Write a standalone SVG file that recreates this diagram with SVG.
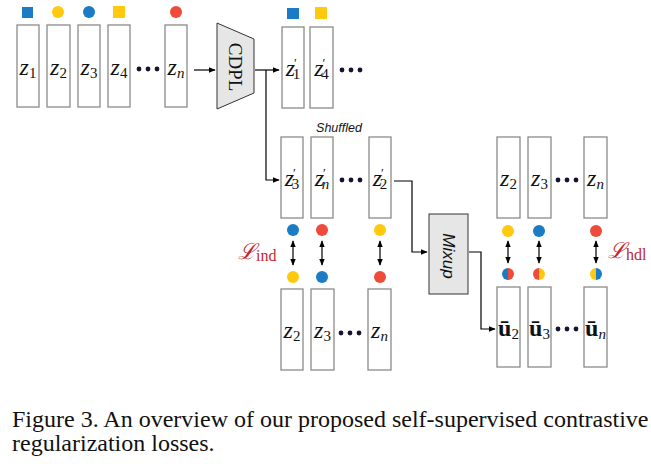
<svg xmlns="http://www.w3.org/2000/svg" width="651" height="464" viewBox="0 0 651 464">
<style>
.box{fill:#fff;stroke:#8a8a8a;stroke-width:1.3}
.lbl{font-family:"Liberation Serif",serif;font-size:24px;fill:#111;text-anchor:middle}
.it{font-style:italic}
.sub{font-size:15px}
.pr{font-size:13px}
.dot{fill:#141432}
.ln{fill:none;stroke:#000;stroke-width:1.2}
.b{fill:#1b7bc4}.y{fill:#ffc90e}.r{fill:#ef4a3a}
.loss{font-family:"Liberation Serif",serif;fill:#c1272d}
</style>
<defs>
<marker id="ah" viewBox="0 0 10 10" refX="9" refY="5" markerWidth="7" markerHeight="7" orient="auto-start-reverse" markerUnits="userSpaceOnUse">
<path d="M0,1 L10,5 L0,9 z" fill="#000"/>
</marker>
</defs>

<!-- top input row -->
<g id="in-z1"><rect x="22" y="7" width="11" height="11" class="b"/><rect class="box" x="17" y="25" width="22" height="82"/><text class="lbl" x="28" y="75"><tspan class="it">z</tspan><tspan class="sub" dy="3">1</tspan></text></g>
<g id="in-z2"><circle cx="58" cy="12" r="6" class="y"/><rect class="box" x="47" y="25" width="23" height="82"/><text class="lbl" x="58.5" y="75"><tspan class="it">z</tspan><tspan class="sub" dy="3">2</tspan></text></g>
<g id="in-z3"><circle cx="89" cy="12" r="6" class="b"/><rect class="box" x="78" y="25" width="22" height="82"/><text class="lbl" x="89" y="75"><tspan class="it">z</tspan><tspan class="sub" dy="3">3</tspan></text></g>
<g id="in-z4"><rect x="113" y="6" width="12" height="12" class="y"/><rect class="box" x="108" y="25" width="22" height="82"/><text class="lbl" x="119" y="75"><tspan class="it">z</tspan><tspan class="sub" dy="3">4</tspan></text></g>
<g id="in-dots"><circle class="dot" cx="139" cy="69" r="2.4"/><circle class="dot" cx="148" cy="69" r="2.4"/><circle class="dot" cx="157" cy="69" r="2.4"/></g>
<g id="in-zn"><circle cx="176" cy="12" r="6" class="r"/><rect class="box" x="165" y="25" width="22" height="82"/><text class="lbl" x="176" y="75"><tspan class="it">z</tspan><tspan class="sub it" dy="3">n</tspan></text></g>

<!-- CDPL -->
<g id="cdpl"><path d="M217,23 L254,39 L254,93 L217,109 Z" fill="#e6e6e6" stroke="#333" stroke-width="1"/><text x="235" y="67" transform="rotate(90 235 67)" font-family="Liberation Serif,serif" font-size="19" text-anchor="middle" dominant-baseline="central" fill="#111">CDPL</text></g>

<!-- output row -->
<g id="out-z1"><rect x="287" y="8" width="12" height="11" class="b"/><rect class="box" x="282" y="27" width="22" height="81"/><text class="lbl" x="293" y="76"><tspan class="it">z</tspan><tspan class="pr" dx="-1" dy="-9">′</tspan><tspan class="sub" dx="-4" dy="12">1</tspan></text></g>
<g id="out-z4"><rect x="315" y="7" width="12" height="12" class="y"/><rect class="box" x="310" y="27" width="23" height="81"/><text class="lbl" x="321.5" y="76"><tspan class="it">z</tspan><tspan class="pr" dx="-1" dy="-9">′</tspan><tspan class="sub" dx="-4" dy="12">4</tspan></text></g>
<g id="out-dots"><circle class="dot" cx="342" cy="70" r="2.4"/><circle class="dot" cx="351" cy="70" r="2.4"/><circle class="dot" cx="360" cy="70" r="2.4"/></g>

<!-- shuffled row -->
<g id="shuffled-label"><text x="339" y="132" font-family="Liberation Sans,Arial,sans-serif" font-style="italic" font-size="12.5" text-anchor="middle" fill="#111">Shuffled</text></g>
<g id="sh-z3"><rect class="box" x="281" y="137" width="22" height="81"/><text class="lbl" x="292" y="186"><tspan class="it">z</tspan><tspan class="pr" dx="-1" dy="-9">′</tspan><tspan class="sub" dx="-4" dy="12">3</tspan></text>
<circle cx="293" cy="230" r="6" class="b"/><circle cx="293" cy="277" r="6" class="y"/></g>
<g id="sh-zn"><rect class="box" x="311" y="137" width="22" height="81"/><text class="lbl" x="322" y="186"><tspan class="it">z</tspan><tspan class="pr" dx="-1" dy="-9">′</tspan><tspan class="sub it" dx="-4" dy="12">n</tspan></text>
<circle cx="322" cy="230" r="6" class="r"/><circle cx="322" cy="277" r="6" class="b"/></g>
<g id="sh-dots"><circle class="dot" cx="342" cy="180" r="2.4"/><circle class="dot" cx="351" cy="180" r="2.4"/><circle class="dot" cx="360" cy="180" r="2.4"/></g>
<g id="sh-z2"><rect class="box" x="369" y="137" width="22" height="81"/><text class="lbl" x="380" y="186"><tspan class="it">z</tspan><tspan class="pr" dx="-1" dy="-9">′</tspan><tspan class="sub" dx="-4" dy="12">2</tspan></text>
<circle cx="380" cy="230" r="6" class="y"/><circle cx="380" cy="277" r="6" class="r"/></g>

<g id="loss-ind"><text class="loss" x="238" y="259" font-size="22" font-style="italic">ℒ<tspan font-size="16" font-style="normal" dy="2">ind</tspan></text></g>

<!-- bottom left row -->
<g id="bl-z2"><rect class="box" x="281" y="289" width="22" height="81"/><text class="lbl" x="292" y="338"><tspan class="it">z</tspan><tspan class="sub" dy="3">2</tspan></text></g>
<g id="bl-z3"><rect class="box" x="311" y="289" width="23" height="81"/><text class="lbl" x="322.5" y="338"><tspan class="it">z</tspan><tspan class="sub" dy="3">3</tspan></text></g>
<g id="bl-dots"><circle class="dot" cx="341" cy="333" r="2.4"/><circle class="dot" cx="350" cy="333" r="2.4"/><circle class="dot" cx="359" cy="333" r="2.4"/></g>
<g id="bl-zn"><rect class="box" x="368" y="289" width="23" height="81"/><text class="lbl" x="379.5" y="338"><tspan class="it">z</tspan><tspan class="sub it" dy="3">n</tspan></text></g>

<!-- Mixup -->
<g id="mixup"><rect x="429" y="214" width="39" height="80" fill="#e6e6e6" stroke="#333" stroke-width="1"/><text x="448.5" y="256" transform="rotate(90 448.5 256)" font-family="Liberation Sans,Arial,sans-serif" font-style="italic" font-size="17" text-anchor="middle" dominant-baseline="central" fill="#111">Mixup</text></g>

<!-- right top row -->
<g id="rt-z2"><rect class="box" x="497" y="137" width="23" height="81"/><text class="lbl" x="508.5" y="186"><tspan class="it">z</tspan><tspan class="sub" dy="3">2</tspan></text><circle cx="508" cy="231" r="6" class="y"/></g>
<g id="rt-z3"><rect class="box" x="528" y="137" width="23" height="81"/><text class="lbl" x="539.5" y="186"><tspan class="it">z</tspan><tspan class="sub" dy="3">3</tspan></text><circle cx="539" cy="231" r="6" class="b"/></g>
<g id="rt-dots"><circle class="dot" cx="558" cy="180" r="2.4"/><circle class="dot" cx="567" cy="180" r="2.4"/><circle class="dot" cx="576" cy="180" r="2.4"/></g>
<g id="rt-zn"><rect class="box" x="584" y="137" width="23" height="81"/><text class="lbl" x="595.5" y="186"><tspan class="it">z</tspan><tspan class="sub it" dy="3">n</tspan></text><circle cx="596" cy="231" r="6" class="r"/></g>

<g id="loss-hdl"><text class="loss" x="608" y="258" font-size="22" font-style="italic">ℒ<tspan font-size="16" font-style="normal" dy="2">hdl</tspan></text></g>

<!-- mixed half circles -->
<g id="mix-u2"><path d="M508,268 A6,6 0 0 0 508,280 Z" class="b"/><path d="M508,268 A6,6 0 0 1 508,280 Z" class="r"/></g>
<g id="mix-u3"><path d="M539,268 A6,6 0 0 0 539,280 Z" class="r"/><path d="M539,268 A6,6 0 0 1 539,280 Z" class="y"/></g>
<g id="mix-un"><path d="M596,268 A6,6 0 0 0 596,280 Z" class="y"/><path d="M596,268 A6,6 0 0 1 596,280 Z" class="b"/></g>

<!-- bottom right row -->
<g id="br-u2"><rect class="box" x="497" y="287" width="23" height="80"/><text class="lbl" x="508.5" y="336"><tspan font-weight="bold">ū</tspan><tspan class="sub" dy="3">2</tspan></text></g>
<g id="br-u3"><rect class="box" x="528" y="287" width="23" height="80"/><text class="lbl" x="539.5" y="336"><tspan font-weight="bold">ū</tspan><tspan class="sub" dy="3">3</tspan></text></g>
<g id="br-dots"><circle class="dot" cx="558" cy="329" r="2.4"/><circle class="dot" cx="567" cy="329" r="2.4"/><circle class="dot" cx="576" cy="329" r="2.4"/></g>
<g id="br-un"><rect class="box" x="584" y="287" width="23" height="80"/><text class="lbl" x="595.5" y="336"><tspan font-weight="bold">ū</tspan><tspan class="sub it" dy="3">n</tspan></text></g>

<!-- connectors -->
<g id="connectors">
<line class="ln" x1="194" y1="70" x2="215" y2="70" marker-end="url(#ah)"/>
<line class="ln" x1="255" y1="70" x2="279" y2="70" marker-end="url(#ah)"/>
<polyline class="ln" points="266,70 266,180 279,180" marker-end="url(#ah)"/>
<polyline class="ln" points="394,181 412,181 412,252 427,252" marker-end="url(#ah)"/>
<polyline class="ln" points="469,252 481,252 481,329 495,329" marker-end="url(#ah)"/>
<line class="ln" x1="293" y1="241" x2="293" y2="265" marker-start="url(#ah)" marker-end="url(#ah)"/>
<line class="ln" x1="322" y1="241" x2="322" y2="265" marker-start="url(#ah)" marker-end="url(#ah)"/>
<line class="ln" x1="380" y1="241" x2="380" y2="265" marker-start="url(#ah)" marker-end="url(#ah)"/>
<line class="ln" x1="508" y1="241" x2="508" y2="263" marker-start="url(#ah)" marker-end="url(#ah)"/>
<line class="ln" x1="539" y1="241" x2="539" y2="263" marker-start="url(#ah)" marker-end="url(#ah)"/>
<line class="ln" x1="596" y1="241" x2="596" y2="263" marker-start="url(#ah)" marker-end="url(#ah)"/>
</g>

<!-- caption -->
<g id="caption" font-family="Liberation Serif,serif" font-size="24" fill="#111">
<text x="12" y="427">Figure 3. An overview of our proposed self-supervised contrastive</text>
<text x="12" y="451">regularization losses.</text>
</g>
</svg>
